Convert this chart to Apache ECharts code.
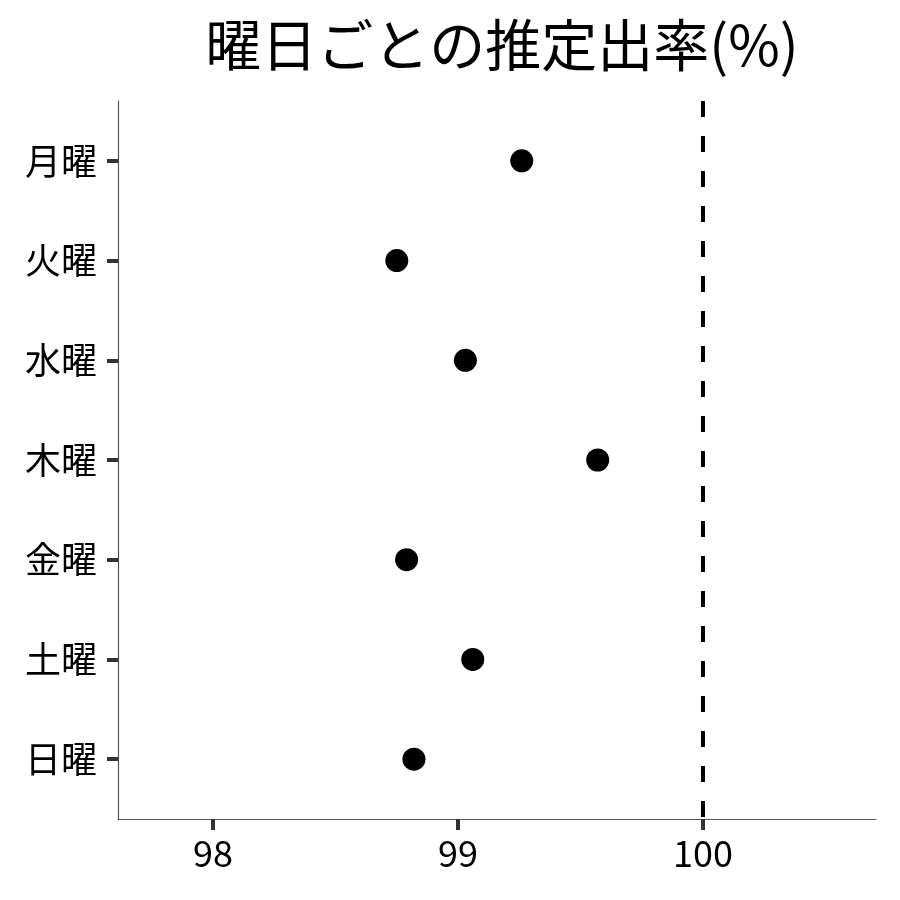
<!DOCTYPE html>
<html>
<head>
<meta charset="utf-8">
<script src="https://cdn.jsdelivr.net/npm/echarts@6/dist/echarts.min.js"></script>
<style>
  html, body { margin: 0; padding: 0; background: #fff; }
  #chart { width: 900px; height: 900px; }
</style>
</head>
<body>
<div id="chart"></div>
<script>
const days = ["月曜", "火曜", "水曜", "木曜", "金曜", "土曜", "日曜"];
const rates = [99.26, 98.75, 99.03, 99.57, 98.79, 99.06, 98.82];
const xTicks = [98, 99, 100];
const refLine = 100;

const font = '"Noto Sans CJK JP", "Noto Sans", sans-serif';
const chart = echarts.init(document.getElementById("chart"), null, { renderer: "canvas" });

const points = rates.map((v, i) => [v, i + 1]);
const yPos = days.map((d, i) => i + 1);

chart.setOption({
  animation: false,
  backgroundColor: "#fff",
  title: {
    text: "曜日ごとの推定出率(%)",
    left: 497,
    top: 12,
    textAlign: "center",
    textStyle: { fontFamily: font, fontSize: 56, fontWeight: "normal", color: "#000" },
  },
  grid: { left: 118, right: 24, top: 101, bottom: 81 },
  xAxis: {
    type: "value",
    min: 97.612,
    max: 100.706,
    axisLine: { show: true, onZero: false, lineStyle: { color: "#555", width: 1.2 } },
    axisTick: { show: true, customValues: xTicks, length: 11, lineStyle: { color: "#333", width: 4 } },
    axisLabel: { customValues: xTicks, margin: 16, fontFamily: font, fontSize: 36, color: "#000" },
    splitLine: { show: false },
  },
  yAxis: {
    type: "value",
    min: 0.4,
    max: 7.6,
    inverse: true,
    axisLine: { show: true, onZero: false, lineStyle: { color: "#555", width: 1.2 } },
    axisTick: { show: true, customValues: yPos, length: 11, lineStyle: { color: "#333", width: 4 } },
    axisLabel: {
      customValues: yPos,
      margin: 21,
      fontFamily: font,
      fontSize: 36,
      color: "#000",
      formatter: (v) => days[Math.round(v) - 1] || "",
    },
    splitLine: { show: false },
  },
  series: [
    {
      type: "scatter",
      data: points,
      symbolSize: 23,
      itemStyle: { color: "#000", opacity: 1 },
      markLine: {
        silent: true,
        symbol: "none",
        label: { show: false },
        lineStyle: { color: "#000", width: 4, type: [16, 19] },
        data: [{ xAxis: refLine }],
      },
    },
  ],
});
</script>
</body>
</html>
